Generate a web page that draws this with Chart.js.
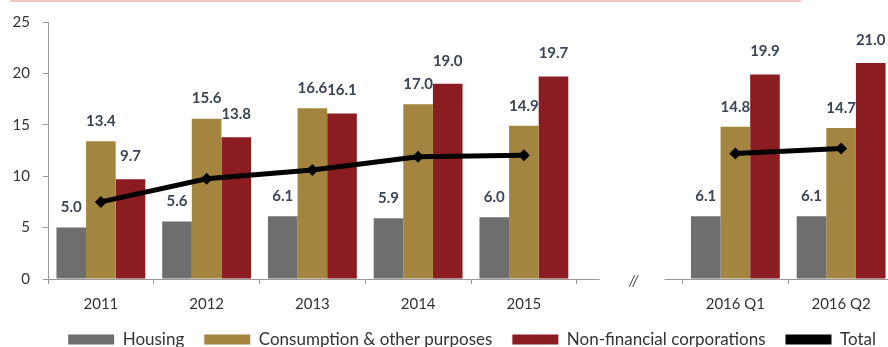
<!DOCTYPE html>
<html>
<head>
<meta charset="utf-8">
<script src="https://cdn.jsdelivr.net/npm/chart.js@4"></script>
<style>
  body { margin: 0; background: #fff; overflow: hidden; }
  #wrap { position: relative; width: 900px; height: 347px; }
  #rule { position: absolute; left: 10px; top: 0; width: 791px; height: 2px; background: #f3c4c4; }
</style>
</head>
<body>
<div id="wrap">
  <div id="rule"></div>
  <canvas id="loans" width="900" height="347"></canvas>
</div>
<script>
// Categories (the empty slot is the break between annual and quarterly data)
const categories = ['2011', '2012', '2013', '2014', '2015', '', '2016 Q1', '2016 Q2'];

// Series values
const housing = [5.0, 5.6, 6.1, 5.9, 6.0, null, 6.1, 6.1];
const consumption = [13.4, 15.6, 16.6, 17.0, 14.9, null, 14.8, 14.7];
const corporations = [9.7, 13.8, 16.1, 19.0, 19.7, null, 19.9, 21.0];
const total = [7.5, 9.75, 10.6, 11.9, 12.05, null, 12.2, 12.7];

// Y axis ticks
const yMin = 0;
const yMax = 25;
const yStep = 5;

const FONT = 'Lato, "Open Sans", sans-serif';

// Value labels above the bars
const barLabels = {
    id: 'barLabels',
    afterDatasetsDraw(chart) {
        const ctx = chart.ctx;
        ctx.save();
        ctx.font = 'bold 15px ' + FONT;
        ctx.fillStyle = '#3b4556';
        ctx.textAlign = 'center';
        ctx.textBaseline = 'middle';
        chart.data.datasets.forEach((ds, i) => {
            if (ds.type === 'line') return;
            const lift = i === 2 ? 23 : 20;
            chart.getDatasetMeta(i).data.forEach((bar, j) => {
                const v = ds.data[j];
                if (v == null) return;
                ctx.fillText(v.toFixed(1), bar.x, bar.y - lift);
            });
        });
        ctx.restore();
    }
};

// Broken x axis with "//" mark in the empty slot
const axisBreak = {
    id: 'axisBreak',
    afterDraw(chart) {
        const x = chart.scales.x;
        const cx = x.getPixelForValue(5);
        const ctx = chart.ctx;
        ctx.save();
        ctx.fillStyle = '#fff';
        ctx.fillRect(cx - 30, x.top - 3, 65, 10);
        ctx.fillStyle = '#444';
        ctx.font = 'italic 15px ' + FONT;
        ctx.textAlign = 'center';
        ctx.textBaseline = 'middle';
        ctx.fillText('//', cx + 4, x.top + 2);
        ctx.restore();
    }
};

new Chart(document.getElementById('loans'), {
    data: {
        labels: categories,
        datasets: [
            { type: 'bar', label: 'Housing', data: housing, backgroundColor: '#6e6e6e', order: 1 },
            { type: 'bar', label: 'Consumption & other purposes', data: consumption, backgroundColor: '#a4853f', order: 1 },
            { type: 'bar', label: 'Non-financial corporations', data: corporations, backgroundColor: '#8b1c22', order: 1 },
            {
                type: 'line', label: 'Total', data: total, order: 0,
                borderColor: '#000', backgroundColor: '#000', borderWidth: 5,
                pointStyle: 'rectRot', pointRadius: 6, pointBackgroundColor: '#000', pointBorderWidth: 0,
                spanGaps: false, tension: 0
            }
        ]
    },
    options: {
        responsive: false,
        animation: false,
        datasets: { bar: { barPercentage: 1, categoryPercentage: 0.84, borderWidth: 0 } },
        layout: { padding: { top: 19, left: 0, right: 4, bottom: -11 } },
        scales: {
            x: {
                grid: { drawOnChartArea: false, tickLength: 5, color: '#999', offset: true },
                border: { color: '#999' },
                ticks: { color: '#333', font: { family: FONT, size: 15 }, padding: 11, maxRotation: 0 },
                afterFit(scale) { scale.height = 32; }
            },
            y: {
                min: yMin, max: yMax,
                grid: { drawOnChartArea: false, tickLength: 5, color: '#999' },
                border: { color: '#999' },
                ticks: { stepSize: yStep, color: '#333', font: { family: FONT, size: 15 }, padding: 13 },
                afterFit(scale) { scale.width = 48; }
            }
        },
        plugins: {
            tooltip: { enabled: false },
            legend: {
                position: 'bottom',
                align: 'end',
                labels: {
                    boxWidth: 46, boxHeight: 10, padding: 20,
                    color: '#333', font: { family: FONT, size: 17 },
                    sort: (a, b) => a.datasetIndex - b.datasetIndex,
                    generateLabels(chart) {
                        return Chart.defaults.plugins.legend.labels.generateLabels(chart).map(item => {
                            item.lineWidth = 0;
                            return item;
                        });
                    }
                }
            }
        }
    },
    plugins: [barLabels, axisBreak]
});
</script>
</body>
</html>
